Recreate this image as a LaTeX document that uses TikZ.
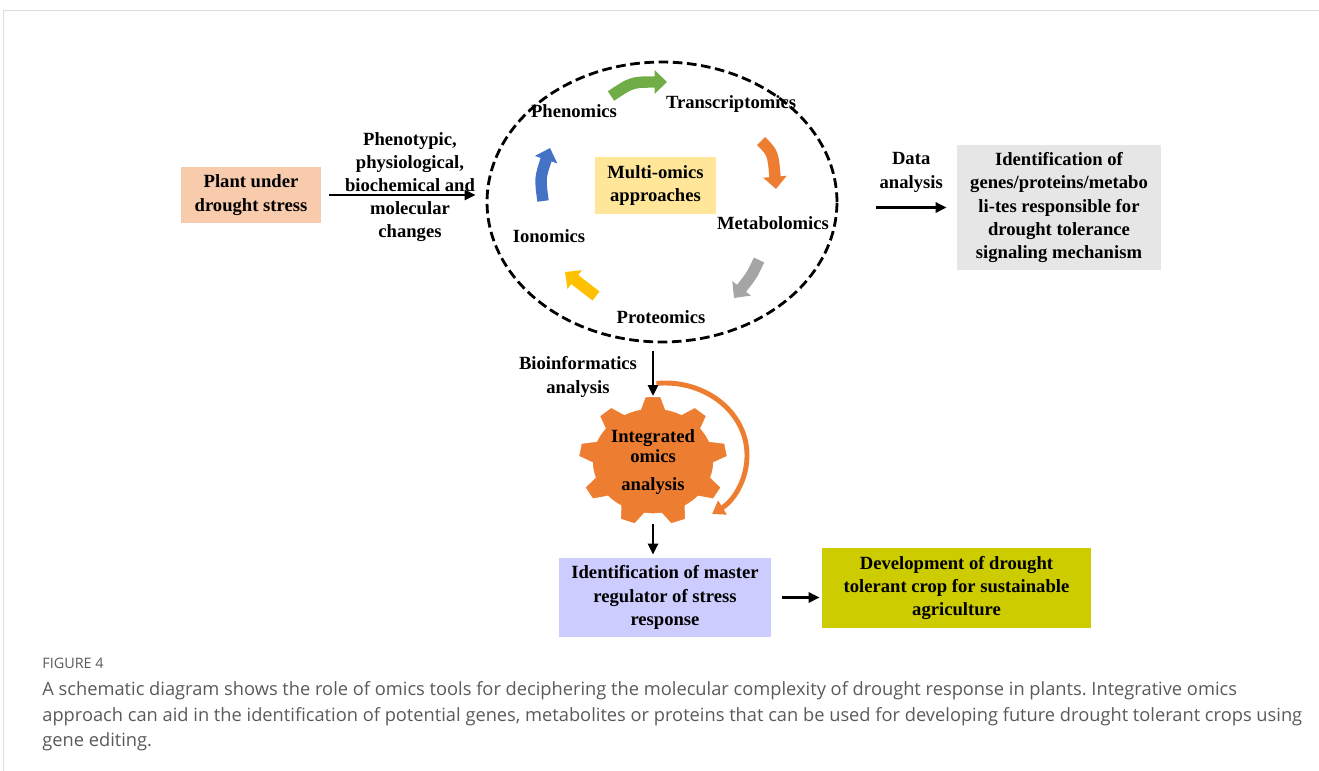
\documentclass[tikz,border=0pt]{standalone}
\usepackage{fontspec}
\setmainfont{Liberation Serif}
\newfontfamily\capfont{Open Sans}
\usetikzlibrary{arrows.meta}
\usetikzlibrary{calc,positioning}
\usetikzlibrary{shapes.geometric}
\frenchspacing

\definecolor{framegrey}{HTML}{DDDDDD}
\definecolor{capgrey}{HTML}{5A5A5A}
\definecolor{plantfill}{HTML}{F8CBAD}
\definecolor{multifill}{HTML}{FFE699}
\definecolor{idfill}{HTML}{E7E6E6}
\definecolor{masterfill}{HTML}{CCCCFF}
\definecolor{devfill}{HTML}{CCCC00}
\definecolor{omgreen}{HTML}{70AD47}
\definecolor{omorange}{HTML}{ED7D31}
\definecolor{omgrey}{HTML}{A5A5A5}
\definecolor{omyellow}{HTML}{FFC000}
\definecolor{omblue}{HTML}{4472C4}

\tikzset{
  box/.style={inner sep=0pt, align=center},
  flow/.style={->, line width=1.5pt},
  blockarrow/.style={line width=6.5pt, -{Triangle[length=7pt,width=13pt]}},
  captext/.style={anchor=base west, inner sep=0pt, text=capgrey, font=\capfont\fontsize{10.4}{14}\selectfont},
}

\begin{document}
\begin{tikzpicture}[x=0.02cm, y=-0.02cm, >={Triangle[length=2.2mm,width=2mm]},
    font=\fontsize{10.6}{13.2}\selectfont\bfseries]
        \useasboundingbox (0,0) rectangle (1319,771);
        \draw[framegrey, line width=1.1pt] (3,10.5) -- (1319,10.5);
        \draw[framegrey, line width=0.6pt] (3.5,10) -- (3.5,771);

        % left part
        \node[box, fill=plantfill, minimum width=2.8cm, minimum height=1.12cm] (plant) at (251,195) {Plant under\\drought stress};
        \node[box] (changes) at (410,187) {Phenotypic,\\physiological,\\biochemical and\\molecular\\changes};

        % multi-omics cycle
        \node[draw, ellipse, dash pattern=on 5.5pt off 2.6pt, line width=1.6pt, minimum width=7cm, minimum height=5.6cm] (cycle) at (662,202) {};
        \node[box, fill=multifill, minimum width=2.42cm, minimum height=1.14cm] (multi) at (655.5,185.5) {Multi-omics\\approaches};
        \node (phen) at (574,111) {Phenomics};
        \node (trans) at (731,104) {Transcriptomics};
        \node (metab) at (773,223) {Metabolomics};
        \node (prot) at (661,317) {Proteomics};
        \node (ion) at (549,236) {Ionomics};

        \draw[blockarrow, omgreen] (611,96) .. controls (632,82) .. (667,82);
        \draw[blockarrow, omorange] (761,141) .. controls (773,153) .. (776,189);
        \draw[blockarrow, omgrey] (759,260) .. controls (752,275) .. (734,298);
        \draw[blockarrow, omyellow] (596,296) -- (565,272);
        \draw[blockarrow, omblue] (543,201) .. controls (540,178) .. (550,148);

        \draw[flow] ([xshift=0.16cm]plant.east) -- ([xshift=-0.2cm]plant.east -| cycle.west);

        % right part
        \node[box, fill=idfill, minimum width=4.08cm, minimum height=2.5cm] (ident) at (1059,207.5) {Identification of\\genes/proteins/metabo\\li-tes responsible\ for\\drought tolerance\\signaling mechanism};
        \draw[flow] ([xshift=-1.62cm]ident.west) -- node[above=0.28cm, box] (data) {Data\\analysis} ([xshift=-0.2cm]ident.west);

        % gear
        \coordinate (gear) at (653,461);
        \coordinate (gtop) at (653,396);
        \coordinate (gbot) at (653,524);
        \begin{scope}[shift={(gear)}, xscale=1.15]
          \filldraw[omorange, draw=white, line width=0.8pt] (-102:53)
            \foreach \a in {-90,-50,...,230} {
              -- (\a-6:65) -- (\a+6:65) -- (\a+12:53) arc[start angle=\a+12, end angle=\a+28, radius=53]
            } -- cycle;
        \end{scope}
        \node[box, font=\fontsize{10.6}{11.4}\selectfont\bfseries] (integ) at (653,462) {Integrated\\omics\\[4.5pt]analysis};
        \coordinate (loop) at (665,455);
        \draw[omorange, line width=2.8pt, -{Triangle[length=7pt,width=9pt]}] (loop) ++(-96:82 and 72)
          arc[start angle=-96, end angle=55, x radius=82, y radius=72];

        \node[box] (bioinf) at (578,377) {Bioinformatics\\analysis};
        \draw[flow] ([yshift=-0.16cm]cycle.south -| gtop) -- (gtop);

        % bottom part
        \node[box, fill=masterfill, minimum width=4.24cm, minimum height=1.58cm] (master) at (665,597.5) {Identification of master\\regulator of stress\\response};
        \node[box, fill=devfill, minimum width=5.38cm, minimum height=1.6cm] (dev) at (956.5,588) {Development of drought\\tolerant crop for sustainable\\agriculture};
        \draw[flow] (gbot) -- ([yshift=0.06cm]gbot |- master.north);
        \draw[flow] ([xshift=0.22cm]master.east) -- ([xshift=-0.04cm]master.east -| dev.west);

        % caption
        \node[captext, font=\capfont\fontsize{8.2}{10}\selectfont] (fig) at (42,668) {FIGURE 4};
        \node[captext] (cap1) at (42,695) {A schematic diagram shows the role of omics tools for deciphering the molecular complexity of drought response in plants. Integrative omics};
        \node[captext] (cap2) at (42,721) {approach can aid in the identification of potential genes, metabolites or proteins that can be used for developing future drought tolerant crops using};
        \node[captext] (cap3) at (42,746) {gene editing.};
\end{tikzpicture}
\end{document}
